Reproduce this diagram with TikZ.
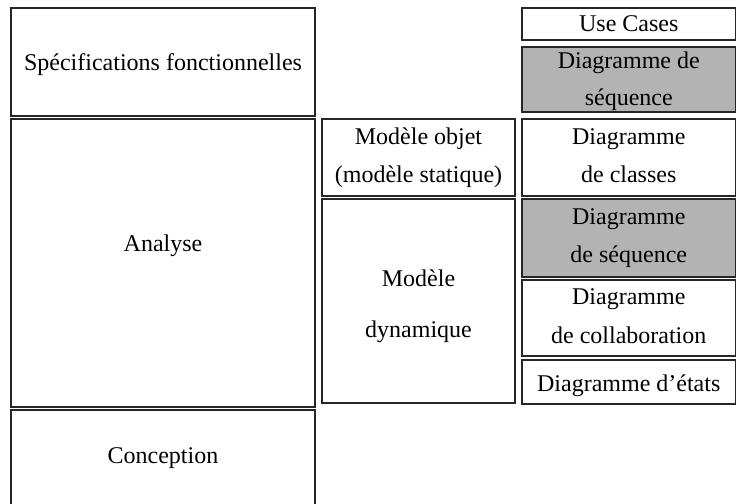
\documentclass[tikz,border=0pt]{standalone}
\usepackage{fontspec}
\setmainfont{Liberation Serif}
\definecolor{cellgray}{RGB}{179,179,179}
\begin{document}
\begin{tikzpicture}[x=0.5pt,y=-0.5pt,
  box/.style={draw=black!85, line width=0.55pt, inner sep=0pt, outer sep=0pt, fill=white},
  graybox/.style={box, fill=cellgray},
  txt/.style={anchor=base, inner sep=0pt, outer sep=0pt, font=\fontsize{12}{14}\selectfont}]
\useasboundingbox (0,0) rectangle (736,504);
% left column
\node[box, minimum width=152pt, minimum height=54pt] (spec) at (163,62) {};
\node[box, minimum width=152pt, minimum height=144pt] (analyse) at (163,263) {};
\node[box, minimum width=152pt, minimum height=50pt] (conception) at (163,460) {};
% middle column
\node[box, minimum width=96.5pt, minimum height=38.5pt] (modobj) at (418.5,157.5) {};
\node[box, minimum width=96.5pt, minimum height=102pt] (moddyn) at (418.5,301) {};
% right column
\node[box, minimum width=106.75pt, minimum height=16pt] (usecases) at (628.75,24) {};
\node[graybox, minimum width=106.75pt, minimum height=32.5pt] (seqa) at (628.75,79.5) {};
\node[box, minimum width=106.75pt, minimum height=38.5pt] (classes) at (628.75,157.5) {};
\node[graybox, minimum width=106.75pt, minimum height=39pt] (seqb) at (628.75,238) {};
\node[box, minimum width=106.75pt, minimum height=38pt] (collab) at (628.75,318) {};
\node[box, minimum width=106.75pt, minimum height=22pt] (etats) at (628.75,382) {};
% texts
\node[txt] (tspec) at (163,70) {Spécifications fonctionnelles};
\node[txt] (tanalyse) at (163,251) {Analyse};
\node[txt] (tconception) at (163,463) {Conception};
\node[txt] (tmodobja) at (418.5,144) {Modèle objet};
\node[txt] (tmodobjb) at (418.5,182) {(modèle statique)};
\node[txt] (tmoddyna) at (418.5,286) {Modèle};
\node[txt] (tmoddynb) at (418.5,337) {dynamique};
\node[txt] (tusecases) at (628.75,31) {Use Cases};
\node[txt] (tseqaa) at (628.75,68) {Diagramme de};
\node[txt] (tseqab) at (628.75,105) {séquence};
\node[txt] (tclassesa) at (628.75,144) {Diagramme};
\node[txt] (tclassesb) at (628.75,182) {de classes};
\node[txt] (tseqba) at (628.75,224) {Diagramme};
\node[txt] (tseqbb) at (628.75,262) {de séquence};
\node[txt] (tcollaba) at (628.75,304) {Diagramme};
\node[txt] (tcollabb) at (628.75,343) {de collaboration};
\node[txt] (tetats) at (628.75,391) {Diagramme d’états};
\end{tikzpicture}
\end{document}
